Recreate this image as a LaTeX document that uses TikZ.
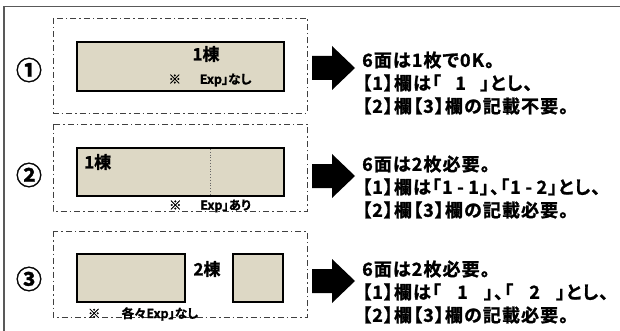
\documentclass[tikz,border=0pt]{standalone}
\usepackage{fontspec}
\setmainfont{Noto Sans CJK JP}[BoldFont={* Bold}]
\newfontfamily\jpb{Noto Sans CJK JP Bold}[RawFeature=+palt,FakeBold=1.3]
\newfontfamily\jpr{Noto Sans CJK JP Bold}[RawFeature=+palt,FakeBold=1.3,LetterSpace=6]
\begin{document}
\begin{tikzpicture}[x=1pt,y=-1pt,
  grp/.style={draw=black!75,line width=0.9pt,dash pattern=on 6pt off 3pt on 1.5pt off 3pt},
  unit/.style={draw=black,line width=2pt,fill=tanfill},
  circnum/.style={font=\jpb\fontsize{26}{26}\selectfont},
  note/.style={font=\jpb\fontsize{12.5}{13}\selectfont,inner sep=0pt},
  bld/.style={font=\jpb\fontsize{17}{18}\selectfont,inner sep=0pt},
  res/.style={font=\jpr\fontsize{18}{23}\selectfont,align=left,anchor=west,inner sep=0pt},
  bigarrow/.style={fill=black}]
\definecolor{tanfill}{RGB}{221,216,197}
\useasboundingbox (0,0) rectangle (620,331);
% outer frame
\draw[draw=black!65,line width=1.8pt] (4,340) -- (4,6.5) -- (630,6.5);
% group boxes
\draw[grp] (53,18) rectangle (307,113);
\draw[grp] (53,124) rectangle (307,211);
\draw[grp] (53,231) rectangle (307,317);
% circled numbers
\node[circnum] (c1) at (29,70) {①};
\node[circnum] (c2) at (29,175) {②};
\node[circnum] (c3) at (29,279) {③};
% row 1
\draw[unit] (77,42) rectangle (284,91);
\node[bld] (t1) at (206,54) {1棟};
\node[note] (n1) at (210,80) {※\hspace{1.5em}Exp」なし};
% row 2
\draw[unit] (77,148) rectangle (284,196);
\draw[black!60,line width=0.8pt,dotted] (210,149) -- (210,195);
\node[bld,anchor=west] (t2) at (84,162) {1棟};
\node[note] (n2) at (210,206) {※\hspace{1.5em}Exp」あり};
% row 3
\draw[unit] (77,254) rectangle (185,302);
\draw[unit] (233,254) rectangle (283,302);
\node[bld] (t3) at (207,269) {2棟};
\node[note] (n3) at (143,314) {※\hspace{1.7em}各々Exp」なし};
% arrows
\foreach \cy in {68,176,281}{
  \fill[bigarrow] (312,\cy-12) -- (332,\cy-12) -- (332,\cy-22) -- (355,\cy) -- (332,\cy+22) -- (332,\cy+12) -- (312,\cy+12) -- cycle;
}
% result texts
\node[res] (r1) at (362,83) {6面は1枚で0K。\\【1】欄は「\hspace{0.8em}1\hspace{0.8em}」とし、\\【2】欄【3】欄の記載不要。};
\node[res] (r2) at (362,187) {6面は2枚必要。\\【1】欄は「1\hspace{0.25em}-\hspace{0.25em}1」、「1\hspace{0.25em}-\hspace{0.25em}2」とし、\\【2】欄【3】欄の記載必要。};
\node[res] (r3) at (362,292) {6面は2枚必要。\\【1】欄は「\hspace{0.9em}1\hspace{0.9em}」、「\hspace{0.9em}2\hspace{0.9em}」とし、\\【2】欄【3】欄の記載必要。};
\end{tikzpicture}
\end{document}
